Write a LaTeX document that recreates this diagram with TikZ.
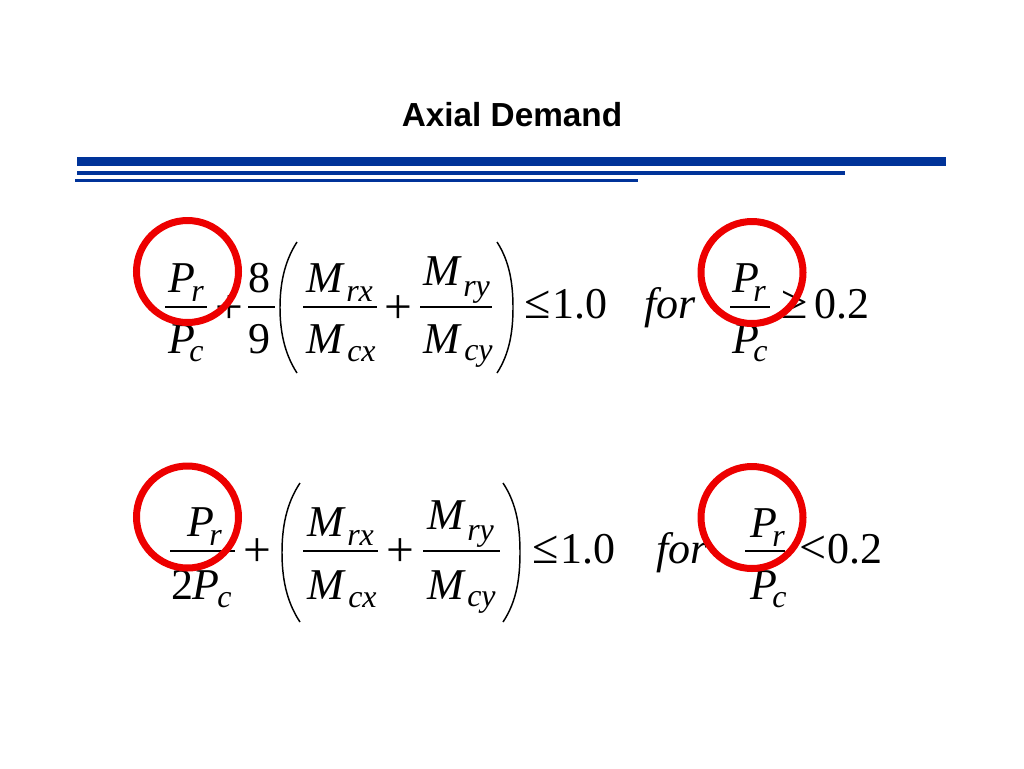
\documentclass[tikz,border=0pt]{standalone}
\usepackage{fontspec}
\setmainfont{Liberation Serif}
\newfontfamily\titlefont{Liberation Sans}
\usetikzlibrary{positioning}

\definecolor{ruleblue}{RGB}{0,51,153}
\definecolor{ringred}{RGB}{237,0,0}

\tikzset{
  sym/.style={inner sep=0pt, anchor=base west, font=\fontsize{33}{40}\selectfont\itshape},
  sub/.style={inner sep=0pt, anchor=base west, font=\fontsize{24}{29}\selectfont\itshape},
  upr/.style={inner sep=0pt, anchor=base west, font=\fontsize{33}{40}\selectfont},
  rel/.style={inner sep=0pt, anchor=base west, font=\fontsize{36}{43}\selectfont},
  opr/.style={inner sep=0pt, anchor=center, font=\fontsize{37}{44}\selectfont},
  bar/.style={line width=1.5pt},
  paren/.style={line width=1.1pt},
  ring/.style={draw=ringred, line width=5.25pt}
}

\begin{document}
\begin{tikzpicture}[x=0.75pt, y=-0.75pt]
\useasboundingbox (0,0) rectangle (1024,768);

\node[font=\titlefont\bfseries\fontsize{25}{30}\selectfont, anchor=base] (title) at (512,126) {Axial Demand};
\fill[ruleblue] (77,157) rectangle (946,166);
\fill[ruleblue] (77,171) rectangle (845,175);
\fill[ruleblue] (75,179) rectangle (638,182);

% first condition
\node[sym] (e1pr) at (168,292) {P};
\node[sub] (e1prs) at (191,301) {r};
\draw[bar] (165,307) -- (207,307);
\node[sym] (e1pc) at (168,353) {P};
\node[sub] (e1pcs) at (189,361) {c};
\node[opr] (e1plus) at (229,310) {+};
\node[upr] (e1eight) at (248,292) {8};
\draw[bar] (248,307) -- (275,307);
\node[upr] (e1nine) at (248,353) {9};
\draw[paren] (297,242) .. controls (284,262) and (280,285) .. (280,307.5) .. controls (280,330) and (284,353) .. (297,373);
\node[sym] (e1mrx) at (306,292) {M};
\node[sub] (e1mrxs) at (346,301) {rx};
\draw[bar] (303,307) -- (377,307);
\node[sym] (e1mcx) at (306,353) {M};
\node[sub] (e1mcxs) at (347,361) {cx};
\node[opr] (e1plusb) at (398.5,310) {+};
\node[sym] (e1mry) at (423,285) {M};
\node[sub] (e1mrys) at (463,296) {ry};
\draw[bar] (420,307) -- (492,307);
\node[sym] (e1mcy) at (423,353) {M};
\node[sub] (e1mcys) at (464,360) {cy};
\draw[paren] (497,242) .. controls (510,262) and (513,285) .. (513,307.5) .. controls (513,330) and (510,353) .. (497,373);
\node[rel] (e1le) at (524,318) {≤};
\node[upr] (e1one) at (552,318) {1.0};
\node[sym] (e1for) at (644,318) {for};
\node[sym] (e1qr) at (732,292) {P};
\node[sub] (e1qrs) at (753,301) {r};
\draw[bar] (730,307) -- (770,307);
\node[sym] (e1qc) at (732,353) {P};
\node[sub] (e1qcs) at (753,361) {c};
\node[rel] (e1ge) at (781,318) {≥};
\node[upr] (e1lim) at (814,318) {0.2};

% second condition
\node[sym] (e2pr) at (187,536) {P};
\node[sub] (e2prs) at (209,545) {r};
\draw[bar] (170,551) -- (235,551);
\node[upr] (e2two) at (171,599) {2};
\node[sym] (e2pc) at (192,599) {P};
\node[sub] (e2pcs) at (217,607) {c};
\node[opr] (e2plus) at (257.5,553) {+};
\draw[paren] (300,483) .. controls (286,504) and (282,528) .. (282,552.5) .. controls (282,577) and (286,601) .. (300,622);
\node[sym] (e2mrx) at (307,536) {M};
\node[sub] (e2mrxs) at (347,545) {rx};
\draw[bar] (303,551) -- (378,551);
\node[sym] (e2mcx) at (307,599) {M};
\node[sub] (e2mcxs) at (348,607) {cx};
\node[opr] (e2plusb) at (400,553) {+};
\node[sym] (e2mry) at (427,529) {M};
\node[sub] (e2mrys) at (467,540) {ry};
\draw[bar] (423,551) -- (500,551);
\node[sym] (e2mcy) at (427,599) {M};
\node[sub] (e2mcys) at (467,606) {cy};
\draw[paren] (503,483) .. controls (517,504) and (520,528) .. (520,552.5) .. controls (520,577) and (517,601) .. (503,622);
\node[rel] (e2le) at (532,563) {≤};
\node[upr] (e2one) at (560,563) {1.0};
\node[sym] (e2for) at (656,563) {for};
\node[sym] (e2qr) at (750,537) {P};
\node[sub] (e2qrs) at (772,546) {r};
\draw[bar] (745,551) -- (785,551);
\node[sym] (e2qc) at (750,599) {P};
\node[sub] (e2qcs) at (772,607) {c};
\node[rel] (e2lt) at (799,563) {<};
\node[upr] (e2lim) at (827,563) {0.2};

% highlight rings
\foreach \cx/\cy in {187.5/271.5, 752/272.5, 187.5/517, 752/517.5}
  \draw[ring] (\cx,\cy) circle[radius=51];
\end{tikzpicture}
\end{document}
